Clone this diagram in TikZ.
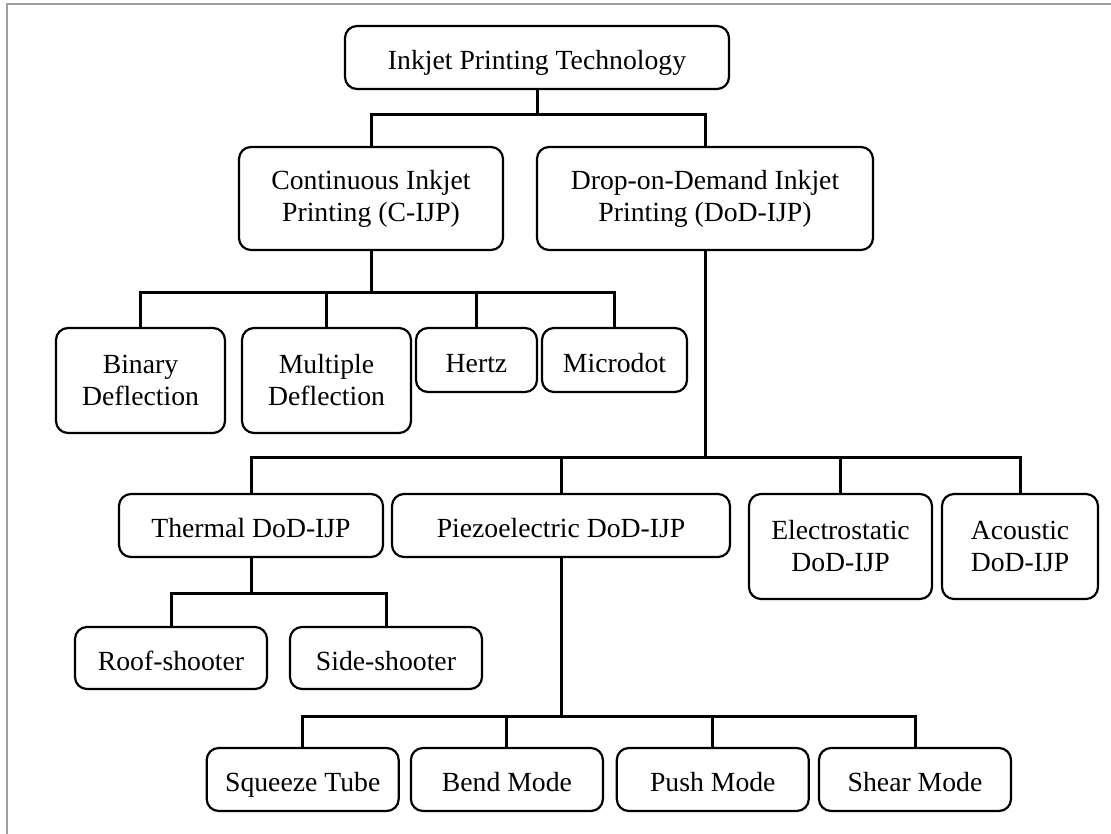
\documentclass[tikz,border=0pt]{standalone}
\usepackage{fontspec}
\setmainfont{Liberation Serif}
\usetikzlibrary{positioning}

\tikzset{
  box/.style={draw, line width=2.2pt, rounded corners=12pt, align=center, inner sep=0pt,
    font=\fontsize{27.7}{32}\selectfont},
  oneline/.style={box, text height=24pt, text depth=0pt},
  link/.style={line width=3pt},
  frame/.style={line width=2pt, draw=gray!75}
}

\begin{document}
\begin{tikzpicture}[x=1pt, y=-1pt]
                \useasboundingbox (0,0) rectangle (1111,834);
                \draw[frame] (7,834) |- (1111,4);

                % --------
                % Top levels
                % --------
                \node[oneline, minimum width=384, minimum height=63] at (537, 57.5) (root) {Inkjet Printing Technology};

                \node[box, minimum width=264, minimum height=103] at (371, 198.5) (cijp) {Continuous Inkjet\\Printing (C-IJP)};
                \node[box, minimum width=336, minimum height=103] at (705, 198.5) (dod) {Drop-on-Demand Inkjet\\Printing (DoD-IJP)};

                % Draw line
                \coordinate (rootbar) at (537, 115);
                \draw[link] (root) -- (rootbar);
                \draw[link] (cijp.north) |- (rootbar) -| (dod.north);

                % --------
                % Continuous
                % --------
                \node[box, minimum width=169, minimum height=105] at (140.5, 380.5) (binary) {Binary\\Deflection};
                \node[box, minimum width=169, minimum height=105] at (326.5, 380.5) (multiple) {Multiple\\Deflection};
                \node[oneline, minimum width=121, minimum height=64] at (476.5, 360) (hertz) {Hertz};
                \node[oneline, minimum width=145, minimum height=64] at (614.5, 360) (microdot) {Microdot};

                % Draw line
                \coordinate (cbar) at (371, 293);
                \draw[link] (cijp) -- (cbar);
                \draw[link] (binary.north) |- (cbar) -| (microdot.north);
                \foreach \n in {multiple, hertz}
                  \draw[link] (\n) -- (\n |- cbar);

                % --------
                % Drop-on-Demand
                % --------
                \node[oneline, minimum width=264, minimum height=63] at (251, 525.5) (thermal) {Thermal DoD-IJP};
                \node[oneline, minimum width=338, minimum height=63] at (561, 525.5) (piezo) {Piezoelectric DoD-IJP};
                \node[box, minimum width=183, minimum height=105] at (840.5, 546.5) (electro) {Electrostatic\\DoD-IJP};
                \node[box, minimum width=156, minimum height=105] at (1020, 546.5) (acoustic) {Acoustic\\DoD-IJP};

                % Draw line
                \coordinate (dbar) at (705, 457);
                \draw[link] (dod) -- (dbar);
                \draw[link] (thermal.north) |- (dbar) -| (acoustic.north);
                \foreach \n in {piezo, electro}
                  \draw[link] (\n) -- (\n |- dbar);

                % --------
                % Thermal
                % --------
                \node[oneline, minimum width=192, minimum height=62] at (171, 658) (roof) {Roof-shooter};
                \node[oneline, minimum width=192, minimum height=62] at (386, 658) (side) {Side-shooter};

                % Draw line
                \coordinate (tbar) at (251, 593);
                \draw[link] (thermal) -- (tbar);
                \draw[link] (roof.north) |- (tbar) -| (side.north);

                % --------
                % Piezoelectric
                % --------
                \node[oneline, minimum width=192, minimum height=63] at (302.7, 779.5) (squeeze) {Squeeze Tube};
                \node[oneline, minimum width=192, minimum height=63] at (506.9, 779.5) (bend) {Bend Mode};
                \node[oneline, minimum width=192, minimum height=63] at (712.8, 779.5) (push) {Push Mode};
                \node[oneline, minimum width=192, minimum height=63] at (915, 779.5) (shear) {Shear Mode};

                % Draw line
                \coordinate (pbar) at (561, 716);
                \draw[link] (piezo) -- (pbar);
                \draw[link] (squeeze.north) |- (pbar) -| (shear.north);
                \foreach \n in {bend, push}
                  \draw[link] (\n) -- (\n |- pbar);

            \end{tikzpicture}
\end{document}
